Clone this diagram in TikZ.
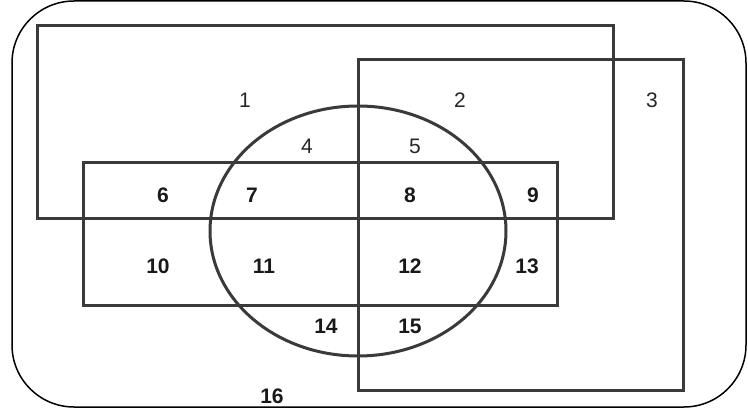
\documentclass[tikz,border=0pt]{standalone}
\usepackage{fontspec}
\setmainfont{Liberation Sans}
\definecolor{setline}{HTML}{3A3A3A}
\begin{document}
\begin{tikzpicture}[x=1pt,y=-1pt,
  setedge/.style={draw=setline,line width=3pt},
  lbl/.style={font=\fontsize{21}{23}\selectfont,text=black!85},
  blbl/.style={font=\fontsize{21}{23}\selectfont\bfseries,text=black!90}]
\useasboundingbox (0,0) rectangle (748,412);
\fill[white] (0,0) rectangle (748,412);
% outer frame
\draw[black,line width=1.5pt,rounded corners=62pt] (12,1) rectangle (746,407);
% sets
\draw[setedge] (37,26) rectangle (613,218);
\draw[setedge] (358,60) rectangle (683,390);
\draw[setedge] (83,162) rectangle (557,305);
\draw[setedge] (358,231) ellipse [x radius=148, y radius=125];
% labels
\node[lbl] (n1) at (245,100) {1};
\node[lbl] (n2) at (460,100) {2};
\node[lbl] (n3) at (652,100) {3};
\node[lbl] (n4) at (307,146) {4};
\node[lbl] (n5) at (415,146) {5};
\node[blbl] (n6) at (163,195) {6};
\node[blbl] (n7) at (252,195) {7};
\node[blbl] (n8) at (410,195) {8};
\node[blbl] (n9) at (533,195) {9};
\node[blbl] (n10) at (158,266) {10};
\node[blbl] (n11) at (264,266) {11};
\node[blbl] (n12) at (410,266) {12};
\node[blbl] (n13) at (527,266) {13};
\node[blbl] (n14) at (326,326) {14};
\node[blbl] (n15) at (410,326) {15};
\node[blbl] (n16) at (272,396) {16};
\end{tikzpicture}
\end{document}
